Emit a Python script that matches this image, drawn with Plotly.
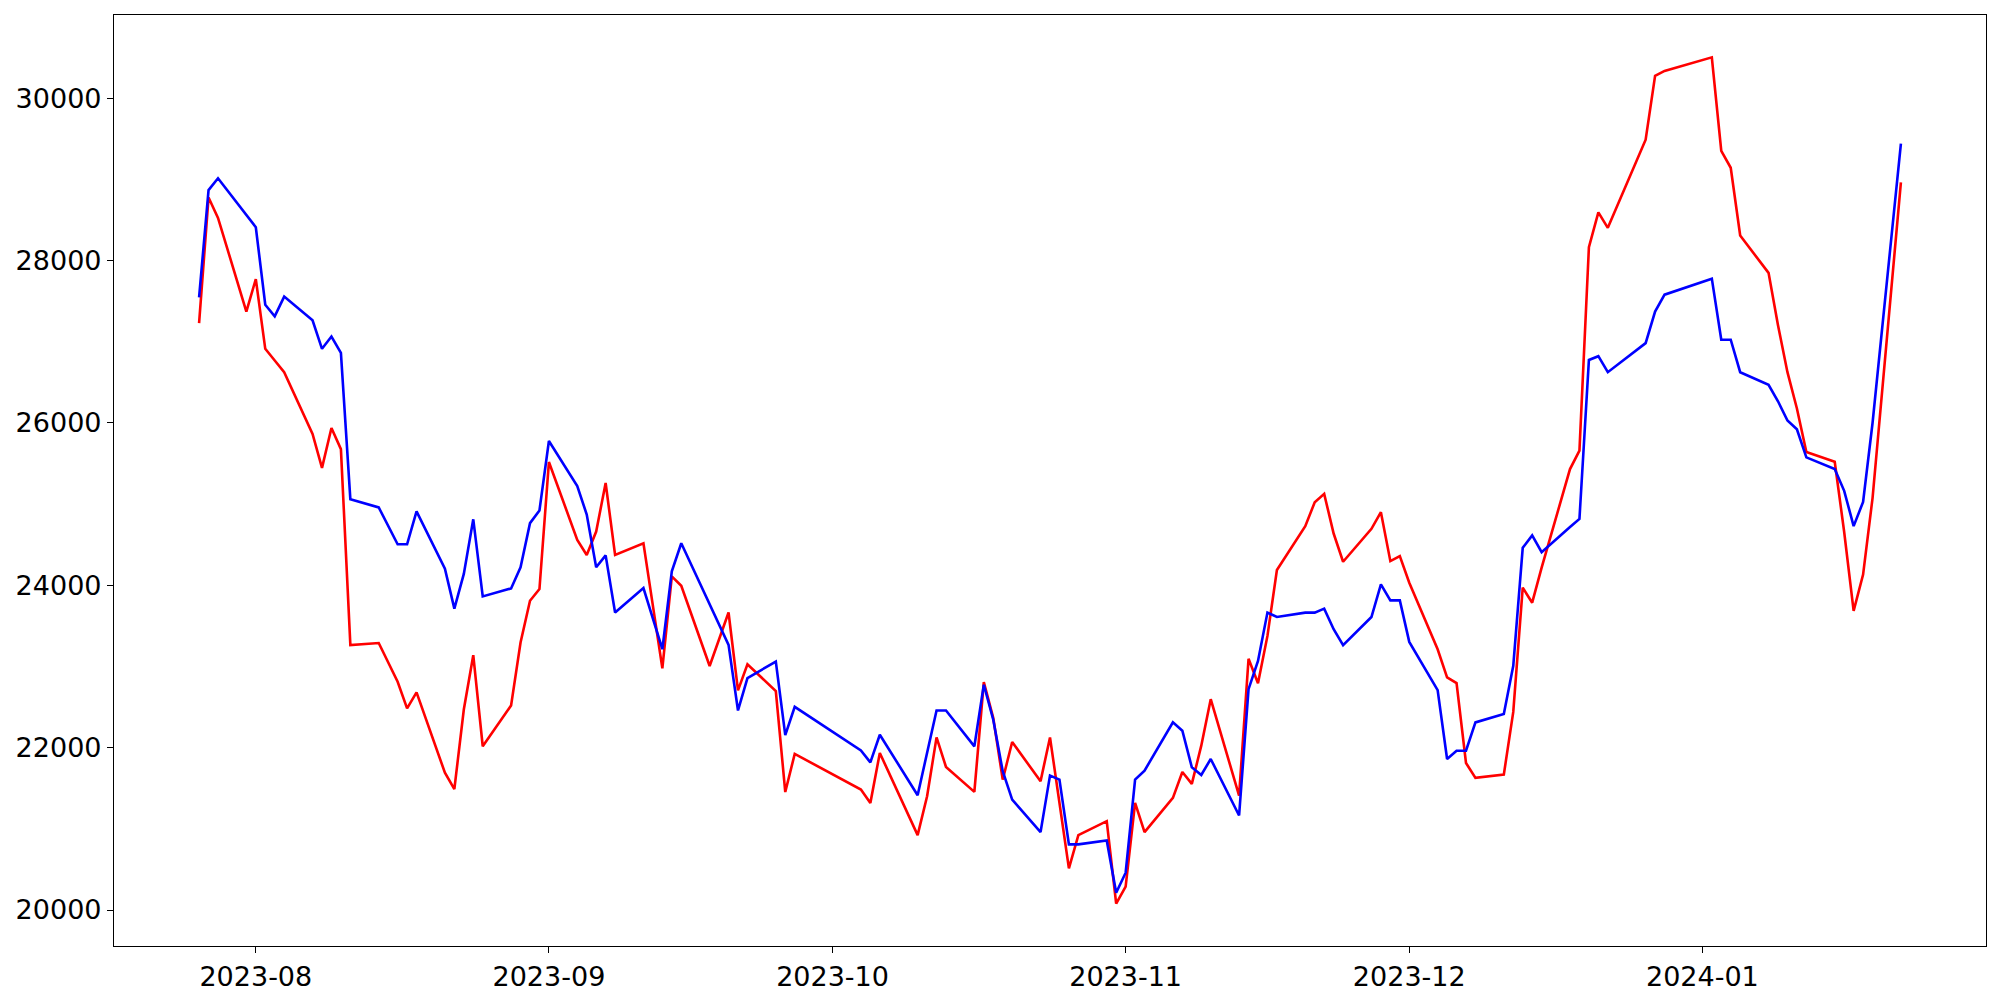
import plotly.graph_objects as go
import datetime as dt

dates = [
    "2023-07-26", "2023-07-27", "2023-07-28", "2023-07-31", "2023-08-01", "2023-08-02", "2023-08-03",
    "2023-08-04", "2023-08-07", "2023-08-08", "2023-08-09", "2023-08-10", "2023-08-11", "2023-08-14",
    "2023-08-16", "2023-08-17", "2023-08-18", "2023-08-21", "2023-08-22", "2023-08-23", "2023-08-24",
    "2023-08-25", "2023-08-28", "2023-08-29", "2023-08-30", "2023-08-31", "2023-09-01", "2023-09-04",
    "2023-09-05", "2023-09-06", "2023-09-07", "2023-09-08", "2023-09-11", "2023-09-13", "2023-09-14",
    "2023-09-15", "2023-09-18", "2023-09-19", "2023-09-20", "2023-09-21", "2023-09-22", "2023-09-25",
    "2023-09-26", "2023-09-27", "2023-10-04", "2023-10-05", "2023-10-06", "2023-10-10", "2023-10-11",
    "2023-10-12", "2023-10-13", "2023-10-16", "2023-10-17", "2023-10-18", "2023-10-19", "2023-10-20",
    "2023-10-23", "2023-10-24", "2023-10-25", "2023-10-26", "2023-10-27", "2023-10-30", "2023-10-31",
    "2023-11-01", "2023-11-02", "2023-11-03", "2023-11-06", "2023-11-07", "2023-11-08", "2023-11-09",
    "2023-11-10", "2023-11-13", "2023-11-14", "2023-11-15", "2023-11-16", "2023-11-17", "2023-11-20",
    "2023-11-21", "2023-11-22", "2023-11-23", "2023-11-24", "2023-11-27", "2023-11-28", "2023-11-29",
    "2023-11-30", "2023-12-01", "2023-12-04", "2023-12-05", "2023-12-06", "2023-12-07", "2023-12-08",
    "2023-12-11", "2023-12-12", "2023-12-13", "2023-12-14", "2023-12-15", "2023-12-18", "2023-12-19",
    "2023-12-20", "2023-12-21", "2023-12-22", "2023-12-26", "2023-12-27", "2023-12-28", "2024-01-02",
    "2024-01-03", "2024-01-04", "2024-01-05", "2024-01-08", "2024-01-09", "2024-01-10", "2024-01-11",
    "2024-01-12", "2024-01-15", "2024-01-16", "2024-01-17", "2024-01-18", "2024-01-19", "2024-01-22",
]

red_values = [
    27229, 28776, 28525, 27370, 27771, 26912, 26768,
    26625, 25864, 25446, 25937, 25676, 23263, 23288,
    22811, 22484, 22680, 21691, 21489, 22469, 23138,
    22017, 22520, 23295, 23809, 23953, 25517, 24559,
    24373, 24661, 25259, 24373, 24517, 22976, 24110,
    23994, 23006, 23335, 23664, 22705, 23027, 22697,
    21453, 21923, 21483, 21319, 21934, 20922, 21401,
    22126, 21762, 21455, 22806, 22364, 21606, 22069,
    21586, 22126, 21334, 20513, 20922, 21094, 20078,
    20287, 21319, 20959, 21381, 21700, 21553, 22024,
    22597, 21409, 23094, 22794, 23376, 24187, 24728,
    25022, 25125, 24637, 24289, 24695, 24900, 24297,
    24359, 24031, 23212, 22864, 22794, 21811, 21627,
    21668, 22440, 23970, 23785, 24216, 25431, 25658,
    28163, 28593, 28402, 29488, 30275, 30335, 30502,
    29350, 29142, 28307, 27847, 27203, 26624, 26177,
    25640, 25521, 24656, 23684, 24131, 25074, 28963,
]

blue_values = [
    27545, 28867, 29012, 28560, 28409, 27455, 27313,
    27555, 27263, 26912, 27063, 26862, 25058, 24958,
    24505, 24505, 24910, 24204, 23712, 24139, 24812,
    23862, 23961, 24221, 24765, 24920, 25777, 25221,
    24871, 24221, 24368, 23664, 23965, 23212, 24172,
    24517, 23772, 23522, 23265, 22458, 22857, 23060,
    22154, 22503, 21966, 21819, 22159, 21414, 21936,
    22458, 22458, 22016, 22774, 22343, 21709, 21360,
    20959, 21655, 21606, 20808, 20808, 20857, 20213,
    20459, 21606, 21717, 22311, 22208, 21758, 21663,
    21860, 21164, 22720, 23068, 23663, 23609, 23663,
    23663, 23712, 23458, 23261, 23609, 24011, 23814,
    23814, 23302, 22708, 21860, 21962, 21962, 22311,
    22413, 23007, 24461, 24613, 24408, 24717, 24817,
    26774, 26821, 26624, 26982, 27370, 27579, 27776,
    27024, 27024, 26624, 26469, 26266, 26028, 25921,
    25575, 25431, 25163, 24728, 25026, 25998, 29440,
]

x_tick_values = ["2023-08-01", "2023-09-01", "2023-10-01", "2023-11-01", "2023-12-01", "2024-01-01"]
x_tick_labels = ["2023-08", "2023-09", "2023-10", "2023-11", "2023-12", "2024-01"]
y_tick_values = [20000, 22000, 24000, 26000, 28000, 30000]

# matplotlib-style 5% autoscale margins
lo = min(min(red_values), min(blue_values))
hi = max(max(red_values), max(blue_values))
pad = (hi - lo) * 0.05
y_range = [lo - pad, hi + pad]

d0 = dt.datetime.fromisoformat(dates[0])
d1 = dt.datetime.fromisoformat(dates[-1])
span = d1 - d0
x_range = [(d0 - span * 0.05).isoformat(), (d1 + span * 0.05).isoformat()]

fig = go.Figure()
fig.add_trace(go.Scatter(x=dates, y=red_values, mode="lines",
                         line=dict(color="#ff0000", width=2.6), showlegend=False))
fig.add_trace(go.Scatter(x=dates, y=blue_values, mode="lines",
                         line=dict(color="#0000ff", width=2.6), showlegend=False))

axis_common = dict(showgrid=False, zeroline=False, showline=True, linecolor="black",
                   linewidth=1.2, mirror=True, ticks="outside", ticklen=6, tickwidth=1.2,
                   tickcolor="black", automargin=False,
                   tickfont=dict(family="DejaVu Sans", size=27, color="black"))

fig.update_xaxes(type="date", range=x_range, tickmode="array", tickvals=x_tick_values,
                 ticktext=x_tick_labels, **axis_common)
fig.update_yaxes(range=y_range, tickmode="array", tickvals=y_tick_values,
                 ticktext=[str(v) for v in y_tick_values], **axis_common)

# page body has an 8px margin, so the figure is sized/offset to compensate
fig.update_layout(width=1984, height=984, paper_bgcolor="white", plot_bgcolor="white",
                  margin=dict(l=106, r=6, t=7, b=46), showlegend=False)

fig.write_html("out.html")
